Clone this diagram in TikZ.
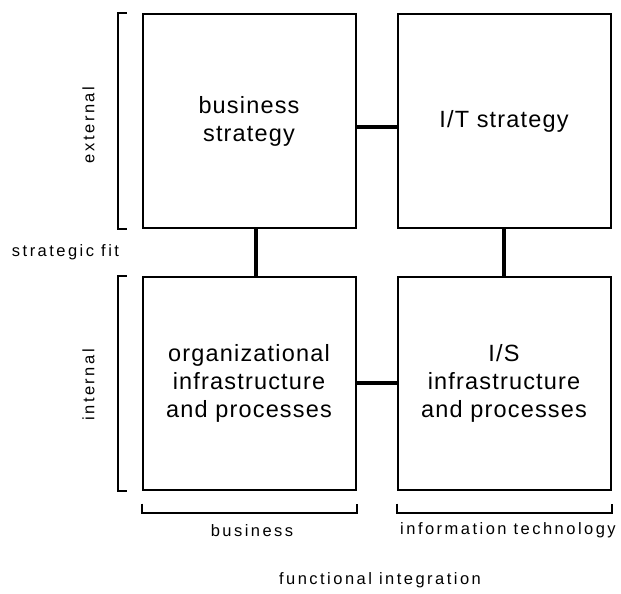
\documentclass[tikz,border=0pt]{standalone}
\usepackage{fontspec}
\newfontfamily\widefont[LetterSpace=15]{Liberation Sans}
\newfontfamily\boxfont[LetterSpace=5]{Liberation Sans}
\usetikzlibrary{calc,positioning}
\tikzset{
  box/.style={draw, line width=2pt, minimum width=213pt, minimum height=213pt,
    inner sep=0pt, align=center, font=\boxfont\fontsize{23.5}{28}\selectfont},
  lbl/.style={font=\widefont\fontsize{16.5}{20}\selectfont},
  link/.style={line width=4.5pt},
  brace/.style={line width=2pt}
}
\begin{document}
\begin{tikzpicture}[x=1pt,y=-1pt]
\useasboundingbox (0,0) rectangle (621,594);
% the four domains
\node[box] (BS) at (249,121) {business\\strategy};
\node[box,right=40pt of BS] (IT) {I/T strategy};
\node[box,below=47pt of BS] (OI) {organizational\\infrastructure\\and processes};
\node[box,right=40pt of OI] (IS) {I/S\\infrastructure\\and processes};
% fit links
\draw[link] ([yshift=-6pt]BS.east) -- ([yshift=-6pt]IT.west);
\draw[link] (OI.east) -- (IS.west);
\draw[link] ([xshift=7pt]BS.south) -- ([xshift=7pt]OI.north);
\draw[link] (IT.south) -- (IS.north);
% brackets
\draw[brace] ([xshift=-15pt]BS.north west) -- ++(-9,0) |- ([xshift=-15pt]BS.south west);
\draw[brace] ([xshift=-15pt]OI.north west) -- ++(-9,0) |- ([xshift=-15pt]OI.south west);
\draw[brace] ([yshift=-13pt]OI.south west) -- ++(0,9) -| ([yshift=-13pt]OI.south east);
\draw[brace] ([yshift=-13pt]IS.south west) -- ++(0,9) -| ([yshift=-13pt]IS.south east);
% labels
\node[lbl,rotate=90] (ext) at ($(BS.west)+(-53,4)$) {external};
\node[lbl,rotate=90] (int) at ($(OI.west)+(-53,2)$) {internal};
\node[lbl] (fit) at ($(BS.south west)!0.5!(OI.north west)+(-76,0)$) {strategic fit};
\node[lbl] (biz) at ($(OI.south)+(3,40)$) {business};
\node[lbl] (tech) at ($(IS.south)+(4,40)$) {information technology};
\node[lbl] (func) at ($(biz)!0.5!(tech)+(0,50)$) {functional integration};
\end{tikzpicture}
\end{document}
